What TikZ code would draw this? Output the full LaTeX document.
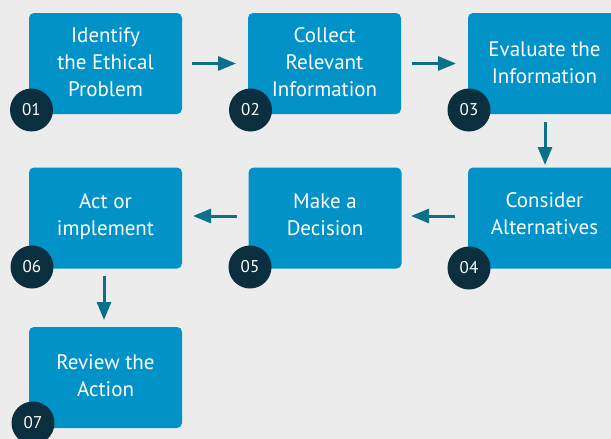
\documentclass[tikz,border=0pt]{standalone}
\usepackage{fontspec}
\setmainfont{PT Sans}
\usetikzlibrary{arrows.meta}
\definecolor{bg}{HTML}{ECECEC}
\definecolor{boxblue}{HTML}{0192C7}
\definecolor{numdark}{HTML}{0B2F3E}
\definecolor{arrowteal}{HTML}{0B7189}
\tikzset{
  stepbox/.style={fill=boxblue, rounded corners=5pt, minimum width=153pt, minimum height=101pt, inner sep=0pt},
  steptext/.style={text=white, align=center, font=\fontsize{21}{27}\selectfont},
  numcirc/.style={circle, fill=numdark, minimum size=43pt, inner sep=0pt, text=white, font=\fontsize{17}{17}\selectfont},
  flow/.style={draw=arrowteal, line width=3pt, -{Triangle[length=18pt, width=14pt]}}
}
\begin{document}
\begin{tikzpicture}[x=1pt, y=-1pt]
\fill[bg] (0,0) rectangle (611,439);
\useasboundingbox (0,0) rectangle (611,439);
% boxes
\node[stepbox] (b1) at (105.5,63.5) {};
\node[stepbox] (b2) at (324.5,63.5) {};
\node[stepbox] (b3) at (544.5,63.5) {};
\node[stepbox] (b4) at (544.5,218) {};
\node[stepbox] (b5) at (325,218) {};
\node[stepbox] (b6) at (105.5,218) {};
\node[stepbox] (b7) at (105.5,377.5) {};
% texts
\node[steptext] (t1) at (105.5,62) {Identify\\the Ethical\\Problem};
\node[steptext] (t2) at (324.5,62) {Collect\\Relevant\\Information};
\node[steptext] (t3) at (544.5,62.5) {Evaluate the\\Information};
\node[steptext] (t4) at (544.5,214) {Consider\\Alternatives};
\node[steptext] (t5) at (325,215) {Make a\\Decision};
\node[steptext] (t6) at (105.5,216.5) {Act or\\implement};
\node[steptext] (t7) at (105.5,376) {Review the\\Action};
% numbers
\node[numcirc] (n1) at (31.5,110) {01};
\node[numcirc] (n2) at (250.5,110) {02};
\node[numcirc] (n3) at (469,110) {03};
\node[numcirc] (n4) at (469,268) {04};
\node[numcirc] (n5) at (250,267) {05};
\node[numcirc] (n6) at (32,267) {06};
\node[numcirc] (n7) at (33,423) {07};
% arrows
\coordinate (a1s) at (192,63.5); \coordinate (a1e) at (236,63.5);
\coordinate (a2s) at (412,63.5); \coordinate (a2e) at (456,63.5);
\coordinate (a3s) at (545,122); \coordinate (a3e) at (545,165);
\coordinate (a4s) at (455,216); \coordinate (a4e) at (411,216);
\coordinate (a5s) at (237,216); \coordinate (a5e) at (193,216);
\coordinate (a6s) at (104,276); \coordinate (a6e) at (104,320);
\draw[flow] (a1s) -- (a1e);
\draw[flow] (a2s) -- (a2e);
\draw[flow] (a3s) -- (a3e);
\draw[flow] (a4s) -- (a4e);
\draw[flow] (a5s) -- (a5e);
\draw[flow] (a6s) -- (a6e);
\end{tikzpicture}
\end{document}
